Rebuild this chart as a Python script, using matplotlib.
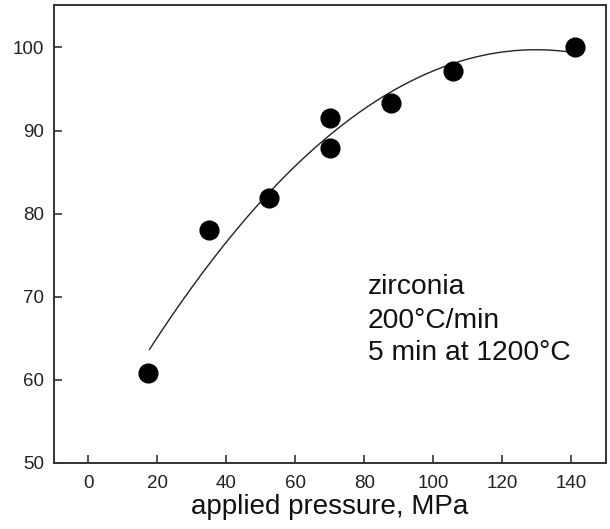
import numpy as np
import matplotlib
matplotlib.use("Agg")
import matplotlib.pyplot as plt

# Data
pressure = [17.2, 34.9, 52.3, 69.9, 69.9, 87.7, 105.6, 141.0]
density = [60.8, 78.0, 81.9, 91.5, 87.9, 93.3, 97.2, 100.1]
x_ticks = [0, 20, 40, 60, 80, 100, 120, 140]
y_ticks = [50, 60, 70, 80, 90, 100]
x_label = "applied pressure, MPa"
note_lines = ["zirconia", "200°C/min", "5 min at 1200°C"]

plt.rcParams['font.family'] = ['Liberation Sans', 'DejaVu Sans']

fig = plt.figure(figsize=(6.10, 5.29), dpi=100)
ax = fig.add_axes([0.0885, 0.1248, 0.9049, 0.8657])

# quadratic regression curve through the data
coef = np.polyfit(pressure, density, 2)
xs = np.linspace(min(pressure) + 0.5, max(pressure), 200)
ax.plot(xs, np.polyval(coef, xs), color='#222222', lw=1.0, zorder=2)

ax.plot(pressure, density, 'o', color='black', ms=13.5, zorder=3)

ax.set_xlim(-10, 150)
ax.set_ylim(50, 105.1)
ax.set_xticks(x_ticks)
ax.set_yticks(y_ticks)

for s in ax.spines.values():
    s.set_color('#333333')
    s.set_linewidth(1.4)

ax.tick_params(axis='both', direction='in', length=5.5, width=1.2,
               color='#333333', labelsize=13.5, labelcolor='#222222',
               top=False, right=False)
ax.tick_params(axis='x', pad=9)
ax.tick_params(axis='y', pad=7)

ax.set_xlabel(x_label, fontsize=20, color='#111111', labelpad=1)

base_y = [70.3, 66.3, 62.4]
for line, yy in zip(note_lines, base_y):
    ax.text(80.9, yy, line, fontsize=20.3, color='#111111', va='baseline', ha='left')

fig.savefig("out.png", dpi=100)
